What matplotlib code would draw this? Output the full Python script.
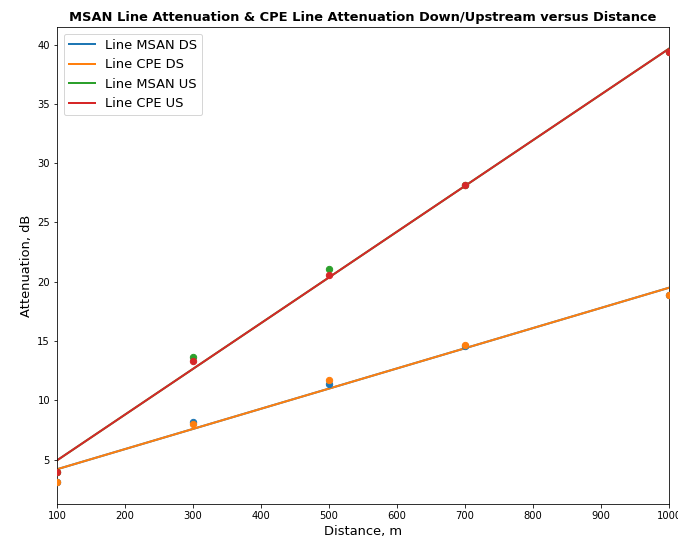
import numpy as np
import matplotlib
matplotlib.use("Agg")
import matplotlib.pyplot as plt

# measured attenuation (dB) at each test distance
distance = np.array([100, 300, 500, 700, 1000])
msan_ds = np.array([3.1, 8.2, 11.4, 14.6, 18.9])
cpe_ds = np.array([3.1, 8.0, 11.7, 14.7, 18.9])
msan_us = np.array([4.0, 13.7, 21.1, 28.2, 39.4])
cpe_us = np.array([4.0, 13.3, 20.6, 28.2, 39.4])

# fitted trend lines, value at 100 m and at 1000 m
fit_x = np.array([100, 1000])
msan_ds_fit = np.array([4.2, 19.5])
cpe_ds_fit = np.array([4.2, 19.5])
msan_us_fit = np.array([4.95, 39.65])
cpe_us_fit = np.array([4.95, 39.65])

series = [
    ("Line MSAN DS", msan_ds, msan_ds_fit, "tab:blue"),
    ("Line CPE DS", cpe_ds, cpe_ds_fit, "tab:orange"),
    ("Line MSAN US", msan_us, msan_us_fit, "tab:green"),
    ("Line CPE US", cpe_us, cpe_us_fit, "tab:red"),
]

fig = plt.figure(figsize=(678 / 72, 540 / 72), dpi=72)
ax = fig.add_axes([57 / 678, 36 / 540, 612 / 678, 477 / 540])

for label, vals, fit, col in series:
    ax.plot(fit_x, fit, color=col, linewidth=2, label=label)
    ax.scatter(distance, vals, color=col, s=40, zorder=3)

ax.set_xlim(100, 1000)
ax.set_xticks(np.arange(100, 1001, 100))
ax.set_yticks(np.arange(5, 41, 5))
ax.tick_params(labelsize=10)
ax.set_xlabel("Distance, m", fontsize=13)
ax.set_ylabel("Attenuation, dB", fontsize=13)
ax.set_title("MSAN Line Attenuation & CPE Line Attenuation Down/Upstream versus Distance",
             fontsize=13, fontweight="bold")
ax.legend(loc="upper left", fontsize=13)

fig.savefig("out.png", dpi=72)
